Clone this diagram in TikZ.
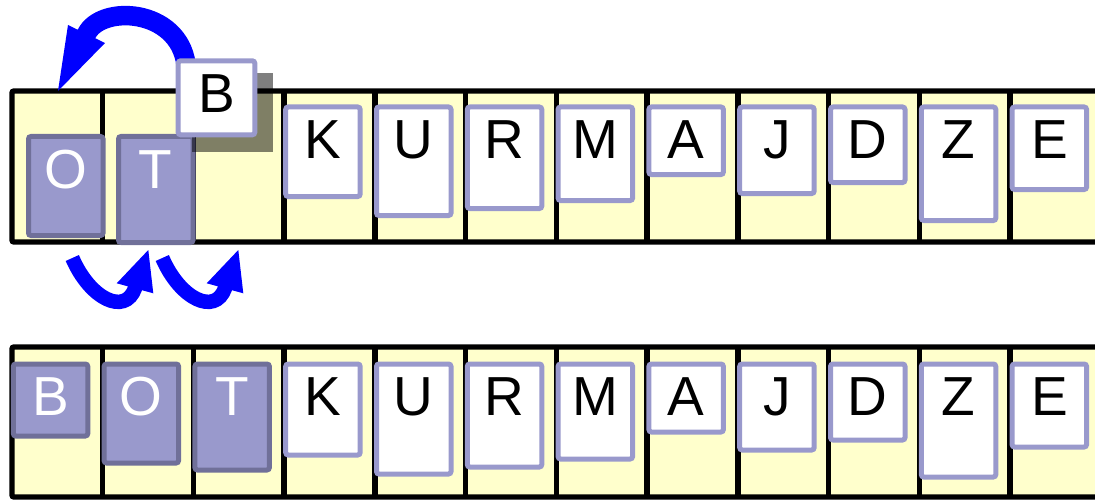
\documentclass[tikz,border=0pt]{standalone}
\usepackage{fontspec}
\newfontfamily\tilefont{Liberation Sans}
\usetikzlibrary{calc}
\definecolor{cellyellow}{HTML}{FFFFCC}
\definecolor{tileedge}{HTML}{9999CC}
\definecolor{darkfill}{HTML}{9999CC}
\definecolor{darkedge}{HTML}{707099}
\definecolor{arrowblue}{HTML}{0000FF}
\newcommand\drawtile[7]{%
  \node[#6, minimum height={#4pt-5pt}] (#1) at (#2+2.5, #3+2.5) {};
  \node[letter, text=#7] (#1txt) at ($(#1.north)+(0,51.7)$) {#5};}
\begin{document}
\begin{tikzpicture}[x=1pt,y=-1pt,
  frameline/.style={line width=5.4pt, black, rounded corners=2pt},
  divider/.style={line width=5.4pt, black},
  tilebox/.style={draw=tileedge, fill=white, line width=5pt, rounded corners=2.5pt,
    minimum width=74.5pt, inner sep=0pt, outer sep=0pt, anchor=north west},
  darkbox/.style={tilebox, draw=darkedge, fill=darkfill},
  letter/.style={font=\tilefont\fontsize{55}{60}\selectfont, anchor=base, inner sep=0pt},
  shadowbox/.style={fill=black, fill opacity=0.5, inner sep=0pt, outer sep=0pt,
    minimum width=81.6pt, minimum height=79pt, anchor=north west},
  bigshaft/.style={draw=arrowblue, line width=19.5pt},
  smallshaft/.style={draw=arrowblue, line width=14.5pt},
  headfill/.style={fill=arrowblue}]
\useasboundingbox (0,0) rectangle (1095,500);
\clip (0,0) rectangle (1095,500);
% ---------- top row frame ----------
\fill[cellyellow] (12,91) rectangle (1100,242);
\draw[frameline] (1100,91) -- (12,91) -- (12,242) -- (1100,242);
\foreach \k in {1,...,11} \draw[divider] (12+90.73*\k, 91) -- (12+90.73*\k, 242);
% ---------- bottom row frame ----------
\fill[cellyellow] (12,347) rectangle (1100,497);
\draw[frameline] (1100,347) -- (12,347) -- (12,497) -- (1100,497);
\foreach \k in {1,...,11} \draw[divider] (12+90.73*\k, 347) -- (12+90.73*\k, 497);
% ---------- top row tiles ----------
\drawtile{tO}{26}{134}{104}{O}{darkbox}{white}
\drawtile{tT}{116}{134}{111}{T}{darkbox}{white}
\drawtile{tK}{283.2}{104.5}{94.5}{K}{tilebox}{black}
\drawtile{tU}{374}{104.5}{113.5}{U}{tilebox}{black}
\drawtile{tR}{464.8}{104.5}{106.5}{R}{tilebox}{black}
\drawtile{tM}{555.6}{104.5}{98.5}{M}{tilebox}{black}
\drawtile{tA}{646.4}{104.5}{72.5}{A}{tilebox}{black}
\drawtile{tJ}{737.2}{104.5}{91.5}{J}{tilebox}{black}
\drawtile{tD}{828}{104.5}{80.5}{D}{tilebox}{black}
\drawtile{tZ}{918.8}{104.5}{118.5}{Z}{tilebox}{black}
\drawtile{tE}{1009.6}{104.5}{87.5}{E}{tilebox}{black}
% shadow of the lifted B
\node[shadowbox] (tBshadow) at (191.7,73.3) {};
% big arrow shaft (under B)
\coordinate (bigStart) at (186,64);
\coordinate (bigBase) at (86.5,34);
\coordinate (bigTip) at (58,91);
\coordinate (bigL) at (68,25);
\coordinate (bigR) at (105,43);
\draw[bigshaft] (bigStart) .. controls (178,8) and (101,4.3) .. (bigBase) -- ($(bigBase)!6pt!(bigTip)$);
\fill[headfill] (bigTip) -- (bigL) -- (bigR) -- cycle;
% lifted B
\drawtile{tB}{175.7}{58.3}{79}{B}{tilebox, minimum width=76.6pt}{black}
% ---------- small arrows ----------
\foreach \s [count=\i] in {0,90}{
  \coordinate (sStart\i) at (72.3+\s,258);
  \coordinate (sBase\i) at (135+\s,288.3);
  \coordinate (sTip\i) at (148.3+\s,250);
  \coordinate (sL\i) at (116.7+\s,283.3);
  \coordinate (sR\i) at (153.3+\s,293.3);
  \draw[smallshaft] (sStart\i) .. controls (90+\s,299) and (125+\s,316) .. (sBase\i) -- ($(sBase\i)!5pt!(sTip\i)$);
  \fill[headfill] (sTip\i) -- (sL\i) -- (sR\i) -- cycle;
}
% ---------- bottom row tiles ----------
\drawtile{bB}{10.8}{361.5}{77}{B}{darkbox}{white}
\drawtile{bO}{101.6}{361.5}{104}{O}{darkbox}{white}
\drawtile{bT}{192.4}{361.5}{111}{T}{darkbox}{white}
\drawtile{bK}{283.2}{361.5}{96}{K}{tilebox}{black}
\drawtile{bU}{374}{361.5}{115}{U}{tilebox}{black}
\drawtile{bR}{464.8}{361.5}{108}{R}{tilebox}{black}
\drawtile{bM}{555.6}{361.5}{100}{M}{tilebox}{black}
\drawtile{bA}{646.4}{361.5}{73}{A}{tilebox}{black}
\drawtile{bJ}{737.2}{361.5}{91}{J}{tilebox}{black}
\drawtile{bD}{828}{361.5}{81}{D}{tilebox}{black}
\drawtile{bZ}{918.8}{361.5}{118}{Z}{tilebox}{black}
\drawtile{bE}{1009.6}{361.5}{88}{E}{tilebox}{black}
\end{tikzpicture}
\end{document}
